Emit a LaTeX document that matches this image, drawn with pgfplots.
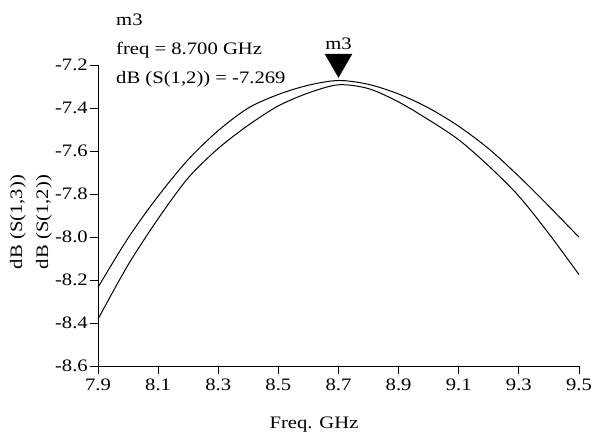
\documentclass[border=0pt]{standalone}
\usepackage{pgfplots}
\pgfplotsset{compat=1.18}
\usepackage{fontspec}
\setmainfont{Liberation Serif}[FakeStretch=1.18]
\newcommand{\fs}{\fontsize{17.5bp}{21bp}\selectfont}
\begin{document}
\begin{tikzpicture}
\path[use as bounding box] (-98bp,-75bp) rectangle (496bp,366bp);
\begin{axis}[
  at={(0,0)}, anchor=south west,
  scale only axis, width=481bp, height=301bp,
  xmin=7.9, xmax=9.5, ymin=-8.6, ymax=-7.2,
  axis x line*=bottom, axis y line*=left,
  xtick={7.9,8.1,8.3,8.5,8.7,8.9,9.1,9.3,9.5},
  ytick={-8.6,-8.4,-8.2,-8.0,-7.8,-7.6,-7.4,-7.2},
  tick align=outside, major tick length=8bp,
  tick style={black, line width=0.8bp},
  axis line style={black, line width=0.8bp},
  tick label style={font=\fs},
  xticklabel style={yshift=-1bp},
  yticklabel style={inner sep=2bp},
  clip=false,
  /pgf/number format/assume math mode=true,
  /pgf/number format/fixed,
  /pgf/number format/fixed zerofill,
  /pgf/number format/precision=1,
]
% dB(S(1,2)) upper curve
\addplot[black, line width=1bp, smooth] coordinates {
(7.9,-8.234) (8.0,-8.005) (8.1,-7.810) (8.2,-7.640) (8.3,-7.505)
(8.4,-7.400) (8.5,-7.337) (8.6,-7.294) (8.7,-7.272) (8.8,-7.290)
(8.9,-7.335) (9.0,-7.400) (9.1,-7.485) (9.2,-7.590) (9.3,-7.718)
(9.4,-7.857) (9.5,-8.001)};
% dB(S(1,3)) lower curve
\addplot[black, line width=1bp, smooth] coordinates {
(7.9,-8.382) (8.0,-8.130) (8.1,-7.915) (8.2,-7.725) (8.3,-7.588)
(8.4,-7.480) (8.5,-7.390) (8.6,-7.330) (8.7,-7.292) (8.8,-7.310)
(8.9,-7.372) (9.0,-7.455) (9.1,-7.548) (9.2,-7.670) (9.3,-7.810)
(9.4,-7.985) (9.5,-8.175)};
% marker m3
\addplot[only marks, mark=triangle*, mark size=15.5bp,
  mark options={fill=black, draw=black, line width=0.4bp, yshift=18bp, rotate=180}]
  coordinates {(8.7,-7.269)};
\node[anchor=base, yshift=30bp, font=\fs, inner sep=0pt] at (axis cs:8.7,-7.269) {m3};
% marker readout
\node[anchor=base west, xshift=18bp, yshift=340bp, font=\fs, inner sep=0pt] at (rel axis cs:0,0) {m3};
\node[anchor=base west, xshift=18bp, yshift=311bp, font=\fs, inner sep=0pt] at (rel axis cs:0,0) {freq = 8.700 GHz};
\node[anchor=base west, xshift=18bp, yshift=282bp, font=\fs, inner sep=0pt] at (rel axis cs:0,0) {dB (S(1,2)) = -7.269};
% y labels
\node[rotate=90, xshift=144bp, yshift=80bp, font=\fs, inner sep=0pt] at (rel axis cs:0,0) {dB (S(1,3))};
\node[rotate=90, xshift=144bp, yshift=54bp, font=\fs, inner sep=0pt] at (rel axis cs:0,0) {dB (S(1,2))};
% x label
\node[anchor=base, xshift=216bp, yshift=-62bp, font=\fs, inner sep=0pt] at (rel axis cs:0,0) {Freq. GHz};
\end{axis}
\end{tikzpicture}
\end{document}
